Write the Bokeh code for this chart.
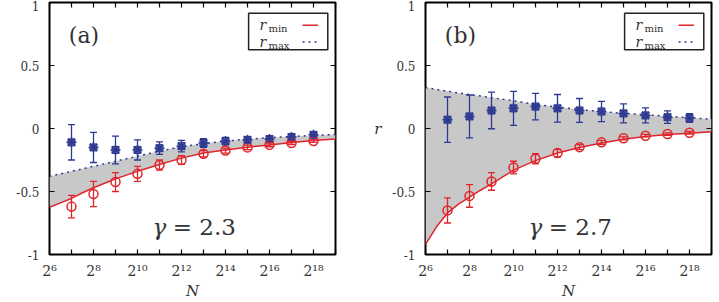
from bokeh.plotting import figure
from bokeh.layouts import row
from bokeh.models import (Range1d, FixedTicker, LinearAxis, Whisker, TeeHead,
                          ColumnDataSource, Label)
from bokeh.core.properties import value
from bokeh.embed import file_html
from bokeh.resources import INLINE

# system sizes N = 2^k
k_pts = [7, 8, 9, 10, 11, 12, 13, 14, 15, 16, 17, 18]
# grid of exponents on which the fitted bounds are given
k_fit = [6, 6.5, 7, 7.5, 8, 8.5, 9, 10, 11, 12, 13, 14, 15, 16, 17, 18, 19]

# gamma = 2.3
rmin_a = [-0.62, -0.52, -0.425, -0.36, -0.29, -0.25, -0.20, -0.175, -0.15, -0.13, -0.115, -0.10]
rmin_a_err = [0.09, 0.10, 0.075, 0.06, 0.04, 0.035, 0.025, 0.02, 0.018, 0.015, 0.012, 0.01]
rmax_a = [-0.11, -0.15, -0.17, -0.17, -0.156, -0.14, -0.115, -0.10, -0.09, -0.083, -0.067, -0.05]
rmax_a_err = [0.14, 0.12, 0.11, 0.08, 0.05, 0.045, 0.035, 0.03, 0.025, 0.02, 0.018, 0.015]
fit_min_a = [-0.625, -0.59, -0.555, -0.51, -0.47, -0.435, -0.40, -0.34, -0.285, -0.235,
             -0.195, -0.17, -0.148, -0.13, -0.112, -0.096, -0.083]
fit_max_a = [-0.38, -0.36, -0.34, -0.32, -0.30, -0.28, -0.26, -0.22, -0.18, -0.145,
             -0.12, -0.10, -0.085, -0.073, -0.063, -0.055, -0.047]

# gamma = 2.7
rmin_b = [-0.65, -0.535, -0.42, -0.31, -0.24, -0.195, -0.148, -0.11, -0.078, -0.057, -0.044, -0.034]
rmin_b_err = [0.10, 0.09, 0.07, 0.05, 0.04, 0.03, 0.02, 0.015, 0.012, 0.01, 0.01, 0.01]
rmax_b = [0.07, 0.096, 0.143, 0.16, 0.174, 0.16, 0.143, 0.135, 0.12, 0.104, 0.09, 0.083]
rmax_b_err = [0.18, 0.17, 0.145, 0.135, 0.105, 0.11, 0.095, 0.08, 0.075, 0.06, 0.05, 0.035]
fit_min_b = [-0.92, -0.78, -0.67, -0.60, -0.545, -0.49, -0.44, -0.33, -0.255, -0.195,
             -0.15, -0.115, -0.085, -0.063, -0.048, -0.037, -0.026]
fit_max_b = [0.325, 0.31, 0.295, 0.282, 0.27, 0.258, 0.245, 0.22, 0.19, 0.17,
             0.15, 0.135, 0.12, 0.11, 0.096, 0.086, 0.073]

x_ticks = list(range(6, 20))
x_tick_labels = {6: "2\u2076", 8: "2\u2078", 10: "2\u00b9\u2070", 12: "2\u00b9\u00b2",
                 14: "2\u00b9\u2074", 16: "2\u00b9\u2076", 18: "2\u00b9\u2078"}
y_ticks = [-1, -0.5, 0, 0.5, 1]
y_tick_labels = {-1: "-1", -0.5: "-0.5", 0: "0", 0.5: "0.5", 1: "1"}

RED = "#e0262c"
BLUE = "#2e3a92"
GRAY = "#c8c8c8"
SERIF = "DejaVu Serif"
TXT = "#333333"


def style_axis(ax, ticks, labels):
    ax.ticker = FixedTicker(ticks=ticks)
    ax.major_label_overrides = labels
    ax.minor_tick_line_color = None
    ax.major_tick_in = 5
    ax.major_tick_out = 0
    ax.major_tick_line_width = 1.2
    ax.axis_line_color = None
    ax.major_label_text_font = SERIF
    ax.major_label_text_color = TXT


def error_bars(p, src, lo, hi, color):
    head = dict(size=7, line_color=color, line_width=1.3)
    p.add_layout(Whisker(source=src, base="k", lower=lo, upper=hi, level="glyph",
                         line_color=color, line_width=1.3,
                         lower_head=TeeHead(**head), upper_head=TeeHead(**head)))


def panel(tag, gamma, rmin, rmin_err, rmax, rmax_err, fit_min, fit_max,
          width, border_left, border_right, show_ylabel):
    p = figure(width=width, height=302, output_backend="svg", toolbar_location=None,
               x_range=Range1d(6, 19), y_range=Range1d(-1, 1),
               min_border_left=border_left, min_border_right=border_right,
               min_border_top=2, min_border_bottom=44)
    p.grid.visible = False
    p.outline_line_color = "black"
    p.outline_line_width = 2
    p.background_fill_color = "white"
    p.border_fill_color = "white"

    xa = p.xaxis[0]
    style_axis(xa, x_ticks, {t: x_tick_labels.get(t, "") for t in x_ticks})
    xa.major_label_text_font_size = "14px"
    xa.major_label_standoff = 8
    xa.axis_label = "N"
    xa.axis_label_text_font = SERIF
    xa.axis_label_text_font_style = "italic"
    xa.axis_label_text_font_size = "15px"
    xa.axis_label_text_color = TXT
    xa.axis_label_standoff = 0

    ya = p.yaxis[0]
    style_axis(ya, y_ticks, y_tick_labels)
    ya.major_label_text_font_size = "12px"
    ya.major_label_standoff = 10
    if show_ylabel:
        ya.axis_label = "r"
        ya.axis_label_orientation = "horizontal"
        ya.axis_label_text_font = SERIF
        ya.axis_label_text_font_style = "italic"
        ya.axis_label_text_font_size = "15px"
        ya.axis_label_text_color = TXT
        ya.axis_label_standoff = 8

    # mirrored tick marks on top and right
    top = LinearAxis()
    style_axis(top, x_ticks, {t: "" for t in x_ticks})
    top.major_label_text_font_size = "0px"
    top.major_label_standoff = 0
    p.add_layout(top, "above")
    right = LinearAxis()
    style_axis(right, y_ticks, {t: "" for t in y_ticks})
    right.major_label_text_font_size = "0px"
    right.major_label_standoff = 0
    p.add_layout(right, "right")

    # band between the two fitted bounds
    p.varea(x=k_fit, y1=fit_min, y2=fit_max, fill_color=GRAY)
    p.line(k_fit, fit_min, line_color=RED, line_width=1.5)
    p.line(k_fit, fit_max, line_color=BLUE, line_width=1.5, line_dash="2 4")

    src = ColumnDataSource(dict(
        k=k_pts, rmin=rmin, rmax=rmax,
        rmin_lo=[v - e for v, e in zip(rmin, rmin_err)],
        rmin_hi=[v + e for v, e in zip(rmin, rmin_err)],
        rmax_lo=[v - e for v, e in zip(rmax, rmax_err)],
        rmax_hi=[v + e for v, e in zip(rmax, rmax_err)],
    ))
    error_bars(p, src, "rmax_lo", "rmax_hi", BLUE)
    error_bars(p, src, "rmin_lo", "rmin_hi", RED)
    p.scatter("k", "rmax", source=src, marker="square", size=7, fill_color=BLUE,
              fill_alpha=0.75, line_color=BLUE)
    p.scatter("k", "rmax", source=src, marker="asterisk", size=10, line_color=BLUE,
              line_width=1.5)
    p.scatter("k", "rmin", source=src, marker="circle", size=9, fill_color=None,
              line_color=RED, line_width=1.5)

    # panel tag and exponent
    p.text(x=[6.88], y=[0.735], text=[tag], text_font=value(SERIF), text_font_size="22px",
           text_color=TXT, text_baseline="middle", text_align="left")
    p.text(x=[10.68], y=[-0.78], text=["\u03b3"], text_font=value(SERIF),
           text_font_style="italic", text_font_size="23px", text_color=TXT,
           text_baseline="middle", text_align="left")
    p.text(x=[11.6], y=[-0.78], text=["= " + gamma], text_font=value(SERIF),
           text_font_size="23px", text_color=TXT, text_baseline="middle", text_align="left")

    # key
    p.quad(left=[15.05], right=[18.65], bottom=[0.625], top=[0.914],
           fill_color="white", line_color="#222222", line_width=1.5)
    p.text(x=[15.55, 15.55], y=[0.82, 0.6875], text=["r", "r"], text_font=value(SERIF),
           text_font_style="italic", text_font_size="14px", text_color=TXT,
           text_baseline="middle", text_align="left")
    p.text(x=[15.95, 15.95], y=[0.79, 0.657], text=["min", "max"], text_font=value(SERIF),
           text_font_size="10px", text_color=TXT, text_baseline="middle", text_align="left")
    p.line([17.5, 18.2], [0.82, 0.82], line_color=RED, line_width=1.5)
    p.line([17.5, 18.2], [0.6875, 0.6875], line_color=BLUE, line_width=1.5, line_dash="2 4")

    if not show_ylabel:
        p.add_layout(Label(x=3.85, y=0, text="r", text_font=SERIF, text_font_style="italic",
                           text_font_size="15px", text_color=TXT, text_baseline="middle",
                           text_align="center"))
    return p


pa = panel("(a)", "2.3", rmin_a, rmin_a_err, rmax_a, rmax_a_err, fit_min_a, fit_max_a,
           360, 49, 25, False)
pb = panel("(b)", "2.7", rmin_b, rmin_b_err, rmax_b, rmax_b_err, fit_min_b, fit_max_b,
           359, 65, 8, True)

layout = row(pa, pb)
open("out.html", "w").write(file_html(layout, INLINE))
